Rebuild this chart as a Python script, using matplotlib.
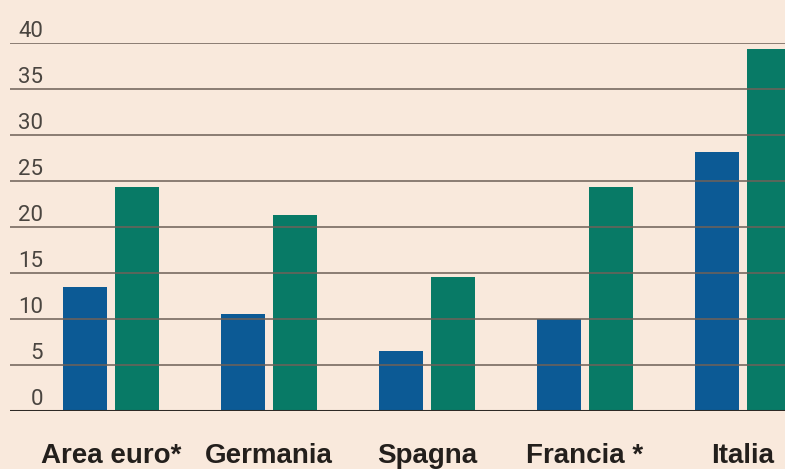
import numpy as np
import matplotlib
matplotlib.use("Agg")
import matplotlib.pyplot as plt
from matplotlib.transforms import blended_transform_factory

# data
countries = ["Area euro*", "Germania", "Spagna", "Francia *", "Italia"]
serie_a = [13.5, 10.5, 6.5, 10.0, 28.2]
serie_b = [24.4, 21.3, 14.6, 24.4, 39.3]
yticks = [0, 5, 10, 15, 20, 25, 30, 35, 40]

bg = "#f9e9dc"
blue = "#0c5a95"
green = "#087a66"

fig = plt.figure(figsize=(7.85, 4.69), dpi=100, facecolor=bg)
ax = fig.add_axes([10 / 785, 58 / 469, 775 / 785, 368 / 469], facecolor=bg)

x = np.arange(len(countries))
w = 0.278
off = 0.326
ax.bar(x, serie_a, width=w, color=blue, align="center", zorder=2)
ax.bar(x + off, serie_b, width=w, color=green, align="center", zorder=2)

ax.set_xlim(-0.475, 4.43)
ax.set_ylim(0, 40)

# grid lines over the bars
for t in yticks[1:]:
    ax.axhline(t, color="#6f6158", lw=1.4, alpha=0.8, zorder=3)
ax.axhline(0, color="#2e2925", lw=2.2, zorder=4)

trans = blended_transform_factory(ax.transAxes, ax.transData)
for t in yticks:
    ax.annotate(str(t), xy=(33 / 775, t), xycoords=trans, xytext=(0, 4),
                textcoords="offset points", ha="right", va="baseline",
                fontsize=16, color="#4a4540", family="Roboto",
                annotation_clip=False)

for i, c in enumerate(countries):
    ax.text(i + off / 2, -4.9, c, ha="center", va="center", fontsize=20,
            fontweight="bold", color="#231f1c", family="Liberation Sans")

ax.set_xticks([])
ax.set_yticks([])
for s in ax.spines.values():
    s.set_visible(False)

fig.savefig("out.png", dpi=100, facecolor=bg)
